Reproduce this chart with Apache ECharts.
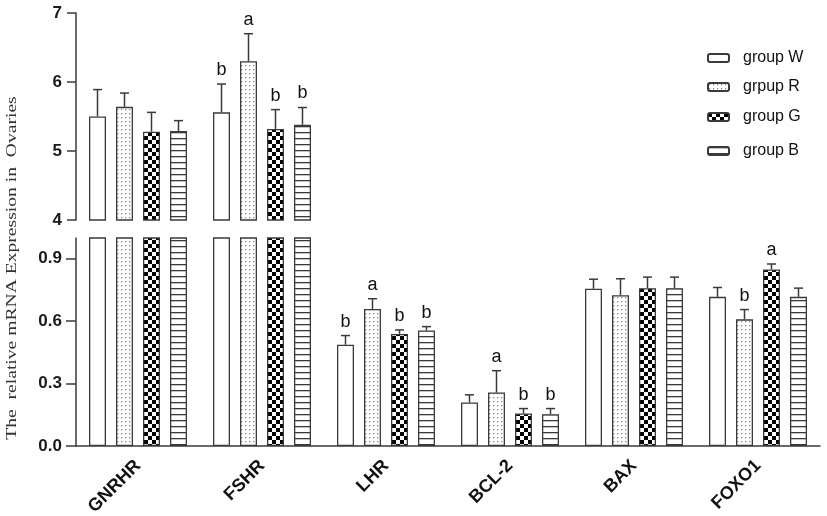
<!DOCTYPE html>
<html>
<head>
<meta charset="utf-8">
<script src="https://cdn.jsdelivr.net/npm/echarts@6/dist/echarts.min.js"></script>
<style>html,body{margin:0;padding:0;background:#fff}#c{width:827px;height:516px}</style>
</head>
<body>
<div id="c"></div>
<script>
const categories = ['GNRHR', 'FSHR', 'LHR', 'BCL-2', 'BAX', 'FOXO1'];
const groupNames = ['group W', 'grpup R', 'group G', 'group B'];
const groupW = [5.50, 5.56, 0.487, 0.209, 0.756, 0.717];
const groupR = [5.64, 6.30, 0.659, 0.257, 0.725, 0.609];
const groupG = [5.28, 5.32, 0.539, 0.156, 0.759, 0.849];
const groupB = [5.29, 5.38, 0.555, 0.153, 0.759, 0.717];
const errW = [0.39, 0.41, 0.044, 0.037, 0.046, 0.045];
const errR = [0.20, 0.40, 0.049, 0.105, 0.079, 0.047];
const errG = [0.28, 0.28, 0.019, 0.024, 0.053, 0.026];
const errB = [0.15, 0.25, 0.019, 0.027, 0.053, 0.042];
const sigW = ['', 'b', 'b', '', '', ''];
const sigR = ['', 'a', 'a', 'a', '', 'b'];
const sigG = ['', 'b', 'b', 'b', '', 'a'];
const sigB = ['', 'b', 'b', 'b', '', ''];
const upperTicks = [4, 5, 6, 7];
const lowerTicks = [0, 0.3, 0.6, 0.9];
const yTitle = 'The  relative mRNA Expression in  Ovaries';

const values = [groupW, groupR, groupG, groupB];
const errors = [errW, errR, errG, errB];
const sigs = [sigW, sigR, sigG, sigB];

function pattern(kind) {
  const c = document.createElement('canvas');
  const ctx = c.getContext('2d');
  if (kind === 'plain') {
    c.width = 4; c.height = 4; ctx.fillStyle = '#fff'; ctx.fillRect(0, 0, 4, 4);
  } else if (kind === 'dots') {
    c.width = 4; c.height = 4; ctx.fillStyle = '#fff'; ctx.fillRect(0, 0, 4, 4);
    ctx.fillStyle = '#8a8a8a'; ctx.fillRect(1, 1, 1.3, 1.3);
  } else if (kind === 'checker') {
    c.width = 8; c.height = 8; ctx.fillStyle = '#fff'; ctx.fillRect(0, 0, 8, 8);
    ctx.fillStyle = '#000'; ctx.fillRect(0, 0, 4, 4); ctx.fillRect(4, 4, 4, 4);
  } else {
    c.width = 8; c.height = 6; ctx.fillStyle = '#fff'; ctx.fillRect(0, 0, 8, 6);
    ctx.fillStyle = '#3a3a3a'; ctx.fillRect(0, 0, 8, 1.3);
  }
  return { image: c, repeat: 'repeat' };
}
const fills = [pattern('plain'), pattern('dots'), pattern('checker'), pattern('lines')];

const BAR_W = 17, GAP = 10;
const lineColor = '#3a3a3a';
const fontSans = 'Liberation Sans, Arial, sans-serif';

const series = [];
groupNames.forEach((name, g) => {
  const style = { color: fills[g], borderColor: lineColor, borderWidth: 1.3 };
  series.push({
    name, type: 'bar', xAxisIndex: 0, yAxisIndex: 0, clip: true,
    barWidth: BAR_W, barGap: (GAP / BAR_W * 100) + '%',
    itemStyle: style,
    data: values[g].map(v => v >= 4 ? v : '-')
  });
  series.push({
    name, type: 'bar', xAxisIndex: 1, yAxisIndex: 1, clip: true,
    barWidth: BAR_W, barGap: (GAP / BAR_W * 100) + '%',
    itemStyle: style,
    data: values[g].slice()
  });
});

function errData(upper) {
  const out = [];
  values.forEach((arr, g) => arr.forEach((v, i) => {
    if ((upper && v >= 4) || (!upper && v < 1)) out.push([i, v, errors[g][i], g]);
  }));
  return out;
}
function renderErr(params, api) {
  const ci = api.value(0), v = api.value(1), e = api.value(2), g = api.value(3);
  const off = (g - 1.5) * (BAR_W + GAP);
  const p0 = api.coord([ci, v]);
  const p1 = api.coord([ci, v + e]);
  const x = p0[0] + off;
  const children = [
    { type: 'line', shape: { x1: x, y1: p0[1], x2: x, y2: p1[1] }, style: { stroke: lineColor, lineWidth: 1.5 } },
    { type: 'line', shape: { x1: x - 4.5, y1: p1[1], x2: x + 4.5, y2: p1[1] }, style: { stroke: lineColor, lineWidth: 1.5 } }
  ];
  const s = sigs[g][ci];
  if (s) {
    children.push({ type: 'text', style: { text: s, x: x, y: p1[1] - 5, align: 'center', verticalAlign: 'bottom',
      font: '18px ' + fontSans, fill: '#111' } });
  }
  return { type: 'group', children };
}
series.push({ type: 'custom', xAxisIndex: 0, yAxisIndex: 0, z: 5, renderItem: renderErr, data: errData(true), silent: true });
series.push({ type: 'custom', xAxisIndex: 1, yAxisIndex: 1, z: 5, renderItem: renderErr, data: errData(false), silent: true });

const yLabel = { fontSize: 17, fontWeight: 'bold', color: '#1a1a1a', fontFamily: fontSans, margin: 14 };
const legendTops = [45, 74, 104, 138];

const option = {
  animation: false,
  backgroundColor: '#fff',
  grid: [
    { left: 76, right: 7, top: 13, height: 207, outerBoundsMode: 'none', containLabel: false },
    { left: 76, right: 7, top: 238, height: 208, outerBoundsMode: 'none', containLabel: false }
  ],
  legend: groupNames.map((n, g) => ({
    data: [n], left: 702, top: legendTops[g], orient: 'vertical',
    itemWidth: 21, itemHeight: 8, selectedMode: false,
    textStyle: { fontSize: 16, color: '#111', fontFamily: fontSans, padding: [0, 0, 0, 9] }
  })),
  xAxis: [
    { type: 'category', gridIndex: 0, data: categories, show: false },
    { type: 'category', gridIndex: 1, data: categories,
      axisLine: { lineStyle: { color: lineColor, width: 1.5 } },
      axisTick: { alignWithLabel: true, length: 6, lineStyle: { color: lineColor, width: 1.5 } },
      axisLabel: { rotate: 45, fontSize: 18, fontWeight: 'bold', color: '#111', fontFamily: fontSans, margin: 17 } }
  ],
  yAxis: [
    { type: 'value', gridIndex: 0, min: 4, max: 7, interval: 1, splitLine: { show: false },
      axisLine: { show: true, lineStyle: { color: lineColor, width: 1.5 } },
      axisTick: { show: true, length: 9, lineStyle: { color: lineColor, width: 1.5 } },
      axisLabel: Object.assign({ customValues: upperTicks }, yLabel) },
    { type: 'value', gridIndex: 1, min: 0, max: 1.0, splitLine: { show: false },
      axisLine: { show: true, lineStyle: { color: lineColor, width: 1.5 } },
      axisTick: { show: true, length: 10, customValues: lowerTicks, lineStyle: { color: lineColor, width: 1.5 } },
      axisLabel: Object.assign({ customValues: lowerTicks, formatter: v => v.toFixed(1) }, yLabel) }
  ],
  graphic: [{
    type: 'text', x: 12, y: 268, rotation: Math.PI / 2, scaleX: 1.4,
    style: { text: yTitle, font: '14px Liberation Serif, Times New Roman, serif', fill: '#333', align: 'center', verticalAlign: 'middle' }
  }],
  series
};

const chart = echarts.init(document.getElementById('c'), null, { renderer: 'canvas' });
chart.setOption(option);
</script>
</body>
</html>
